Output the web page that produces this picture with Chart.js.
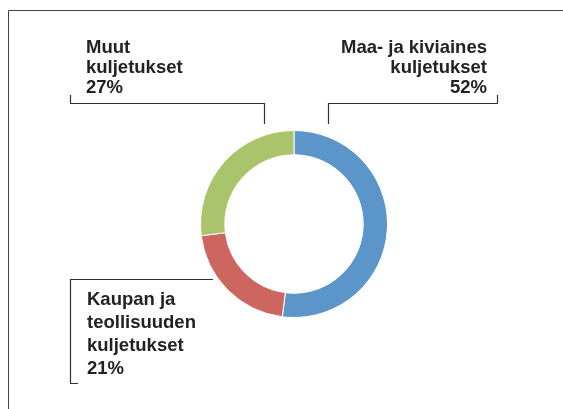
<!DOCTYPE html>
<html>
<head>
<meta charset="utf-8">
<script src="https://cdn.jsdelivr.net/npm/chart.js@4/dist/chart.umd.min.js"></script>
<style>
  html, body { margin: 0; padding: 0; background: #fff; }
  #wrap { position: relative; width: 563px; height: 409px; overflow: hidden; }
  #c { position: absolute; left: 0; top: 0; }
  svg { position: absolute; left: 0; top: 0; }
  .lbl { position: absolute; font-family: "Liberation Sans", Arial, sans-serif; font-weight: bold;
         font-size: 18.5px; color: #222; white-space: nowrap; }
</style>
</head>
<body>
<div id="wrap">
  <canvas id="c" width="563" height="409"></canvas>
  <svg width="563" height="409">
    <polyline points="8.5,409 8.5,10.5 563,10.5" fill="none" stroke="#444" stroke-width="1"/>
    <polyline points="70.5,95 70.5,103.5 264.5,103.5 264.5,124" fill="none" stroke="#333" stroke-width="1.2"/>
    <polyline points="328.5,124 328.5,103.5 497.5,103.5 497.5,95" fill="none" stroke="#333" stroke-width="1.2"/>
    <polyline points="213,279.5 70.5,279.5 70.5,383.5 78,383.5" fill="none" stroke="#333" stroke-width="1.2"/>
  </svg>
  <div id="l0" class="lbl" style="right:76px; top:37px; line-height:20px; text-align:right;"></div>
  <div id="l1" class="lbl" style="left:87px; top:287px; line-height:23px;"></div>
  <div id="l2" class="lbl" style="left:86px; top:37px; line-height:20px;"></div>
</div>
<script>
const labelLines = [
  ["Maa- ja kiviaines", "kuljetukset"],
  ["Kaupan ja", "teollisuuden", "kuljetukset"],
  ["Muut", "kuljetukset"]
];
const categories = labelLines.map(l => l.join(" "));
const values = [52, 21, 27];
const colors = ["#5B95C9", "#CE6660", "#AAC46C"];

new Chart(document.getElementById("c"), {
  type: "doughnut",
  data: {
    labels: categories,
    datasets: [{
      data: values,
      backgroundColor: colors,
      borderColor: "#ffffff",
      borderWidth: 1
    }]
  },
  options: {
    responsive: false,
    animation: false,
    cutout: "74%",
    layout: { padding: { left: 200, right: 175, top: 130, bottom: 91 } },
    plugins: { legend: { display: false }, tooltip: { enabled: false } }
  }
});

labelLines.forEach((lines, i) => {
  const el = document.getElementById("l" + i);
  el.innerHTML = "";
  lines.concat([values[i] + "%"]).forEach((t, j) => {
    if (j) el.appendChild(document.createElement("br"));
    el.appendChild(document.createTextNode(t));
  });
});
</script>
</body>
</html>
